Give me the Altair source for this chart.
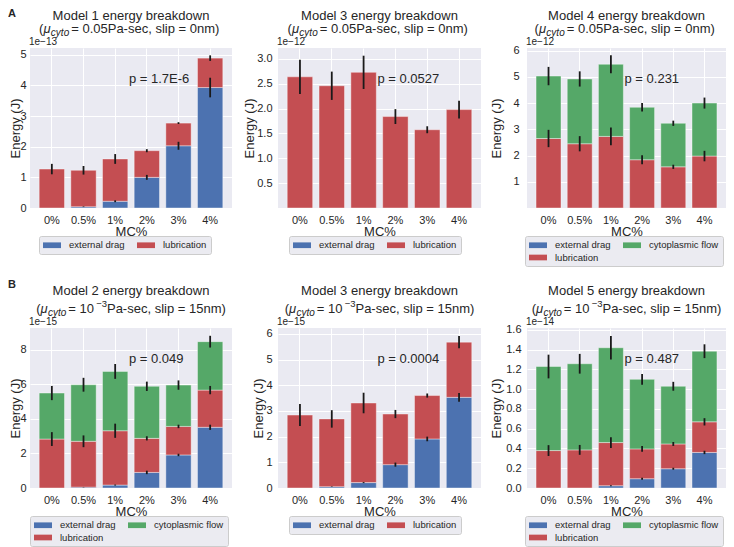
import altair as alt
import pandas as pd

FONT = "Liberation Sans"
TXT = "#262626"
BG = "#EAEAF2"
BLUE, RED, GREEN = "#4C72B0", "#C44E52", "#55A868"

CATS = ["0%", "0.5%", "1%", "2%", "3%", "4%"]

# ---- Panel A, left: Model 1 (x 1e-13 J)
m1_ext = [0.0, 0.04, 0.22, 1.00, 2.03, 3.93]
m1_ext_err = [0.0, 0.01, 0.03, 0.08, 0.13, 0.32]
m1_lub = [1.27, 1.19, 1.38, 0.87, 0.74, 0.96]
m1_lub_err = [0.17, 0.14, 0.16, 0.05, 0.03, 0.09]

# ---- Panel A, middle: Model 3, mu=0.05 (x 1e-12 J)
m3a_ext = [0.0, 0.0, 0.0, 0.0, 0.0, 0.0]
m3a_ext_err = [0.0, 0.0, 0.0, 0.0, 0.0, 0.0]
m3a_lub = [2.64, 2.46, 2.73, 1.84, 1.575, 1.98]
m3a_lub_err = [0.345, 0.285, 0.335, 0.15, 0.07, 0.18]

# ---- Panel A, right: Model 4 (x 1e-12 J)
m4_ext = [0.0, 0.0, 0.0, 0.0, 0.0, 0.0]
m4_ext_err = [0.0, 0.0, 0.0, 0.0, 0.0, 0.0]
m4_lub = [2.65, 2.45, 2.73, 1.84, 1.57, 1.98]
m4_lub_err = [0.33, 0.29, 0.34, 0.17, 0.08, 0.20]
m4_cyto = [2.38, 2.47, 2.75, 2.00, 1.66, 2.02]
m4_cyto_err = [0.35, 0.29, 0.34, 0.16, 0.10, 0.21]

# ---- Panel B, left: Model 2 (x 1e-15 J)
m2_ext = [0.0, 0.05, 0.17, 0.90, 1.91, 3.51]
m2_ext_err = [0.0, 0.01, 0.03, 0.10, 0.07, 0.15]
m2_lub = [2.83, 2.65, 3.14, 1.97, 1.65, 2.15]
m2_lub_err = [0.40, 0.34, 0.41, 0.12, 0.10, 0.24]
m2_cyto = [2.66, 3.27, 3.43, 3.01, 2.39, 2.80]
m2_cyto_err = [0.41, 0.40, 0.43, 0.27, 0.27, 0.34]

# ---- Panel B, middle: Model 3, mu=1e-3 (x 1e-15 J)
m3b_ext = [0.0, 0.05, 0.21, 0.91, 1.91, 3.53]
m3b_ext_err = [0.0, 0.01, 0.02, 0.08, 0.09, 0.17]
m3b_lub = [2.84, 2.64, 3.10, 1.97, 1.69, 2.15]
m3b_lub_err = [0.43, 0.34, 0.40, 0.16, 0.08, 0.24]

# ---- Panel B, right: Model 5 (x 1e-14 J)
m5_ext = [0.0, 0.0, 0.023, 0.094, 0.195, 0.36]
m5_ext_err = [0.0, 0.0, 0.005, 0.01, 0.01, 0.017]
m5_lub = [0.379, 0.386, 0.437, 0.302, 0.251, 0.31]
m5_lub_err = [0.055, 0.05, 0.055, 0.03, 0.02, 0.037]
m5_cyto = [0.851, 0.872, 0.96, 0.704, 0.584, 0.715]
m5_cyto_err = [0.12, 0.10, 0.12, 0.054, 0.045, 0.07]

P_TEXTS = ["p = 1.7E-6", "p = 0.0527", "p = 0.231", "p = 0.049", "p = 0.0004", "p = 0.487"]
EXPOS = ["1e\u221213", "1e\u221212", "1e\u221212", "1e\u221215", "1e\u221215", "1e\u221214"]
TITLES = ["Model 1 energy breakdown", "Model 3 energy breakdown", "Model 4 energy breakdown",
          "Model 2 energy breakdown", "Model 3 energy breakdown", "Model 5 energy breakdown"]

H = 160
WIDTHS = [202, 203, 199]

AW = {' ': .278, '(': .333, ')': .333, '\u03bc': .576, '=': .584, '.': .278, ',': .278, '-': .333,
      '\u2212': .584, 'P': .667, 'a': .556, 's': .5, 'e': .556, 'c': .5, 'l': .222, 'i': .222,
      'p': .556, 'n': .556, 'm': .833, 'y': .5, 't': .278, 'o': .556}


def tw(s, size):
    return sum(AW.get(ch, .556) for ch in s) * size


def one_text(s, x, y, size=13, align="left", baseline="alphabetic", style="normal", weight="normal"):
    return alt.Chart(pd.DataFrame({"t": [s]})).mark_text(
        align=align, baseline=baseline, fontSize=size, font=FONT, fontStyle=style,
        fontWeight=weight, color=TXT
    ).encode(x=alt.value(x), y=alt.value(y), text="t:N")


def panel(idx, comps, ymax, yticks, yfmt, W, title_x, lab_pad, leg_x, row, letter=None):
    recs = []
    cum = [0.0] * len(CATS)
    for name, vals, errs, order in comps:
        for i, c in enumerate(CATS):
            top = cum[i] + vals[i]
            recs.append(dict(cat=c, comp=name, val=vals[i], ord=order,
                             lo=top - errs[i], hi=top + errs[i], err=errs[i]))
            cum[i] = top
    df = pd.DataFrame(recs)
    names = [c[0] for c in comps]
    if "cytoplasmic flow" in names:
        dom = ["external drag", "lubrication", "cytoplasmic flow"]
        rng = [BLUE, RED, GREEN]
    else:
        dom = ["external drag", "lubrication"]
        rng = [BLUE, RED]

    xscale = alt.Scale(domain=CATS, paddingInner=0.2, paddingOuter=0.29)
    yscale = alt.Scale(domain=[0, ymax], nice=False, zero=True)
    xaxis = alt.Axis(title="MC%", labelAngle=0, ticks=False, domain=False, labelPadding=6,
                     bandPosition=0.5, grid=True, titleY=27, titleBaseline="alphabetic")
    yaxis = alt.Axis(title="Energy (J)", values=yticks, format=yfmt, ticks=False, domain=False,
                     labelPadding=lab_pad, grid=True, titleX=title_x, titleY=H / 2, titleAngle=270,
                     titleBaseline="bottom", titleAlign="center")

    bars = alt.Chart(df).mark_bar(stroke="white", strokeWidth=0.8, strokeOpacity=0.5).encode(
        x=alt.X("cat:N", scale=xscale, axis=xaxis),
        y=alt.Y("val:Q", stack="zero", scale=yscale, axis=yaxis),
        color=alt.Color("comp:N", scale=alt.Scale(domain=dom, range=rng),
                        legend=alt.Legend(title=None, orient="none", legendX=leg_x,
                                          legendY=H + 28, columns=2)),
        order=alt.Order("ord:Q", sort="ascending"),
    )
    ebars = alt.Chart(df).transform_filter("datum.err > 0").mark_rule(
        color="#1a1a1a", strokeWidth=1.8).encode(
        x=alt.X("cat:N", scale=xscale, axis=xaxis),
        y=alt.Y("lo:Q", scale=yscale, axis=yaxis),
        y2="hi:Q",
    )

    layers = [bars, ebars]
    # title line 1
    l1y = -28.5 if row == 0 else -33.5
    layers.append(one_text(TITLES[idx], W / 2, l1y, size=13, align="center"))
    # title line 2 (rich text pieces: text, size, style, dy, extra gap after)
    base = -15 if row == 0 else -15.5
    if row == 0:
        pieces = [("(", 13, "normal", 0, 0), ("\u03bc", 13, "italic", 0, 0),
                  ("cyto", 10, "italic", 3, 2), (" = 0.05Pa-sec, slip = 0nm)", 13, "normal", 0, 0)]
    else:
        pieces = [("(", 13, "normal", 0, 0), ("\u03bc", 13, "italic", 0, 0),
                  ("cyto", 10, "italic", 3, 2), (" = 10", 13, "normal", 0, -1.5),
                  ("\u22123", 9.5, "normal", -6, 0), ("Pa-sec, slip = 15nm)", 13, "normal", 0, 0)]
    total = sum(tw(p[0], p[1]) + p[4] for p in pieces)
    x0 = W / 2 - total / 2
    for s, size, style, dy, gap in pieces:
        layers.append(one_text(s, x0, base + dy, size=size, style=style))
        x0 += tw(s, size) + gap
    # exponent
    layers.append(one_text(EXPOS[idx], -1, -3, size=10))
    # p value
    layers.append(one_text(P_TEXTS[idx], 0.49 * W, 35, size=13))
    if letter is not None:
        ly = -40 if row == 0 else -49
        layers.append(one_text(letter, -22, ly, size=11, baseline="top", weight="bold"))
    return alt.layer(*layers).properties(width=W, height=H)


def comp_list(ext, ext_err, lub, lub_err, cyto=None, cyto_err=None):
    out = [("external drag", ext, ext_err, 0), ("lubrication", lub, lub_err, 1)]
    if cyto is not None:
        out.append(("cytoplasmic flow", cyto, cyto_err, 2))
    return out


pA1 = panel(0, comp_list(m1_ext, m1_ext_err, m1_lub, m1_lub_err), 5.22, [0, 1, 2, 3, 4, 5], "d",
            WIDTHS[0], -8, 4, 9, 0, letter="A")
pA2 = panel(1, comp_list(m3a_ext, m3a_ext_err, m3a_lub, m3a_lub_err), 3.22,
            [0.5, 1.0, 1.5, 2.0, 2.5, 3.0], ".1f", WIDTHS[1], -22, 6, 11, 0)
pA3 = panel(2, comp_list(m4_ext, m4_ext_err, m4_lub, m4_lub_err, m4_cyto, m4_cyto_err), 6.1,
            [1, 2, 3, 4, 5, 6], "d", WIDTHS[2], -24, 8, -2, 0)
pB1 = panel(3, comp_list(m2_ext, m2_ext_err, m2_lub, m2_lub_err, m2_cyto, m2_cyto_err), 9.25,
            [0, 2, 4, 6, 8], "d", WIDTHS[0], -8, 4, 0, 1, letter="B")
pB2 = panel(4, comp_list(m3b_ext, m3b_ext_err, m3b_lub, m3b_lub_err), 6.23,
            [0, 1, 2, 3, 4, 5, 6], "d", WIDTHS[1], -13, 6, 11, 1)
pB3 = panel(5, comp_list(m5_ext, m5_ext_err, m5_lub, m5_lub_err, m5_cyto, m5_cyto_err), 1.62,
            [0.0, 0.2, 0.4, 0.6, 0.8, 1.0, 1.2, 1.4, 1.6], ".1f", WIDTHS[2], -24, 6, -2, 1)

chart = alt.concat(pA1, pA2, pA3, pB1, pB2, pB3, columns=3,
                   spacing={"row": 120, "column": 46}, bounds="flush").resolve_scale(
    color="independent", x="independent", y="independent").resolve_legend(color="independent")

chart = chart.properties(padding=0).configure_view(fill=BG, strokeWidth=0).configure_axis(
    labelFont=FONT, labelFontSize=11, labelColor=TXT, titleFont=FONT, titleFontSize=13,
    titleColor=TXT, titleFontWeight="normal", gridColor="white", gridWidth=1, gridOpacity=1
).configure_legend(
    labelFont=FONT, labelFontSize=9.5, labelColor=TXT, padding=4, fillColor="#EBEBF1",
    strokeColor="#CCCCCC", cornerRadius=2, symbolType="M-1.8,-0.57H1.8V0.57H-1.8Z", symbolSize=100,
    symbolStrokeWidth=0, symbolOpacity=1, symbolOffset=4, columnPadding=12, rowPadding=2.5,
    labelOffset=12, labelLimit=200
)

chart.save("out.html", embed_options={"renderer": "svg", "actions": False})
